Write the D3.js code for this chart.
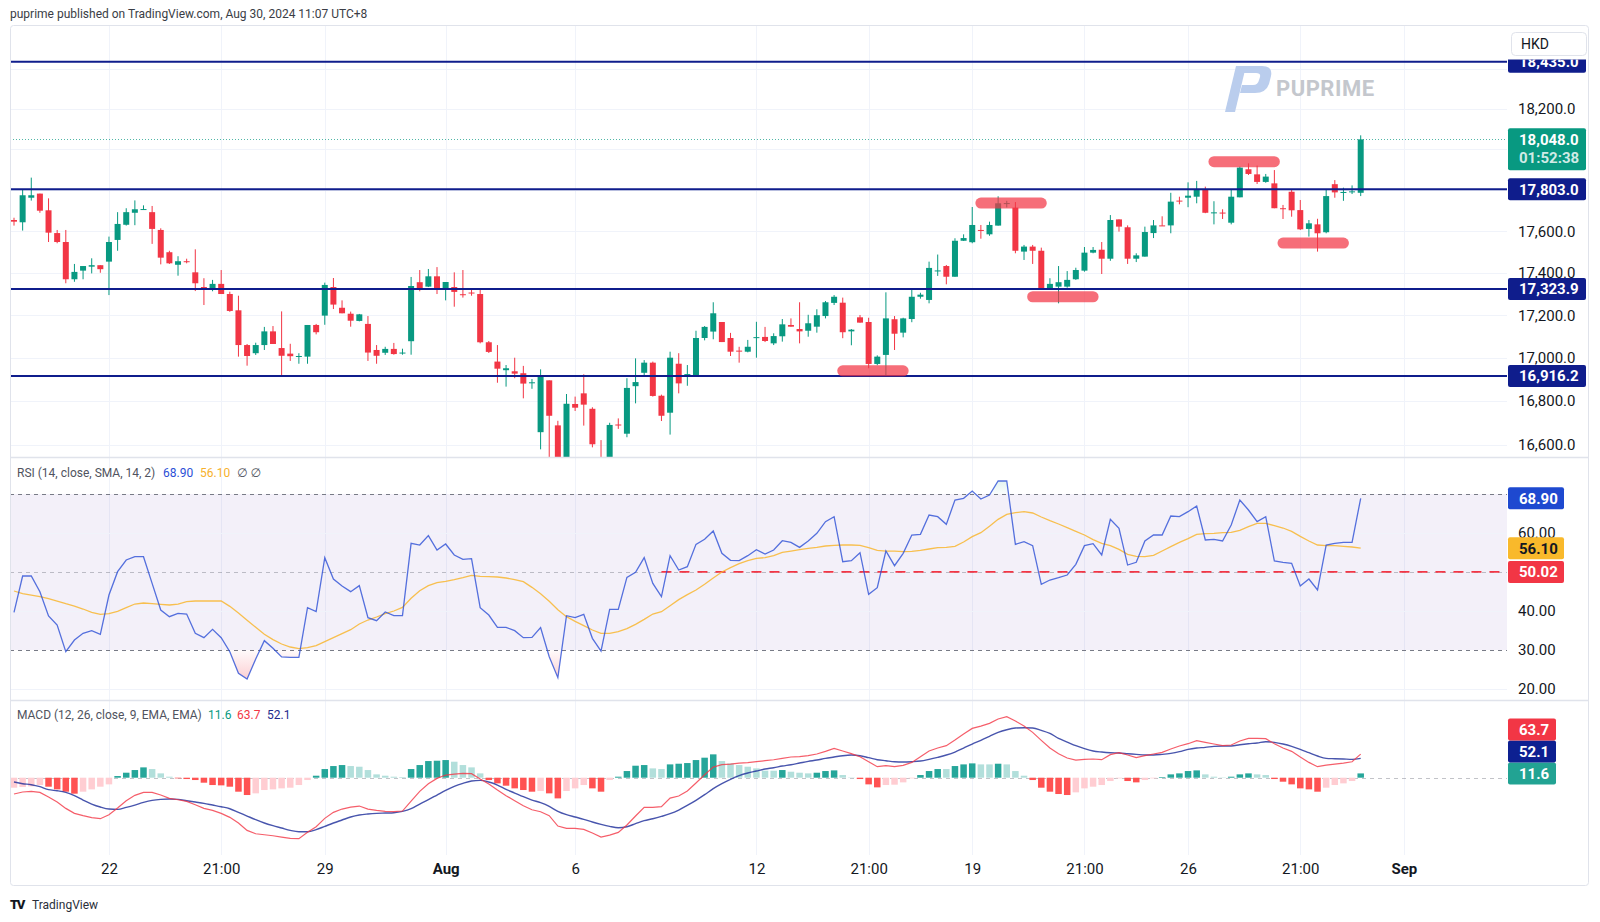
<!DOCTYPE html>
<html>
<head>
<meta charset="utf-8">
<title>HK50 4H</title>
<script src="https://cdn.jsdelivr.net/npm/d3@7/dist/d3.min.js"></script>
<style>
  html, body { margin: 0; padding: 0; background: #ffffff; }
  svg { display: block; }
</style>
</head>
<body>
<svg id="chart" width="1600" height="922"></svg>
<script>
// ---------------- DATA ----------------
const opens = [17654,17643,17762,17782,17701,17591,17548,17370,17411,17430,
 17437,17454,17558,17631,17689,17704,17692,17606,17499,17439,
 17456,17403,17333,17319,17348,17300,17223,17060,17022,17060,
 17124,17046,17020,17007,17006,17154,17198,17333,17235,17207,
 17173,17159,17037,17024,17042,17024,17078,17356,17335,17384,
 17323,17333,17299,17307,17300,17073,16983,16943,16938,16929,
 16885,16658,16896,16689,16525,16787,16836,16765,16520,16495,
 16693,16651,16869,16931,16978,16825,16747,16973,16922,16917,
 17093,17123,17168,17093,17034,17029,17095,17098,17068,17101,
 17154,17135,17127,17146,17196,17258,17259,17124,17190,17168,
 16972,17014,17181,17118,17182,17287,17272,17410,17433,17382,
 17554,17547,17606,17585,17627,17734,17714,17502,17526,17506,
 17323,17335,17335,17370,17411,17497,17511,17468,17657,17619,
 17468,17478,17591,17628,17628,17748,17762,17767,17800,17689,
 17690,17641,17764,17901,17876,17839,17832,17711,17791,17702,
 17611,17633,17595,17828,17789,17791,17786];
const highs = [17665,17803,17860,17782,17759,17606,17606,17443,17433,17470,
 17437,17574,17692,17711,17749,17725,17722,17614,17506,17480,
 17468,17513,17375,17367,17414,17311,17292,17065,17071,17145,
 17149,17218,17066,17022,17154,17159,17354,17376,17270,17217,
 17206,17196,17060,17052,17070,17043,17381,17414,17419,17428,
 17357,17403,17414,17327,17319,17079,17060,16967,17001,16963,
 16902,16947,16896,16710,16833,16821,16924,16772,16622,16701,
 16721,16906,16998,16990,16983,16830,17029,17022,16967,17127,
 17149,17261,17168,17117,17052,17084,17169,17145,17115,17182,
 17185,17261,17202,17228,17267,17295,17283,17135,17201,17188,
 17012,17308,17196,17188,17327,17306,17454,17488,17438,17566,
 17585,17717,17630,17646,17769,17747,17741,17534,17534,17521,
 17375,17433,17409,17425,17524,17524,17548,17678,17657,17628,
 17494,17622,17654,17672,17786,17767,17837,17844,17816,17745,
 17706,17804,17914,17930,17919,17878,17897,17727,17800,17751,
 17654,17660,17803,17848,17811,17822,18068];
const lows = [17627,17603,17748,17689,17548,17542,17351,17358,17370,17398,
 17401,17295,17506,17627,17629,17703,17539,17441,17443,17387,
 17446,17314,17248,17313,17300,17216,17006,16964,17014,17037,
 17065,16918,16986,16973,16973,17110,17155,17229,17209,17146,
 17171,16986,16973,17014,17015,17015,17015,17313,17333,17300,
 17270,17240,17283,17292,17068,17023,16885,16867,16906,16813,
 16857,16580,16510,16505,16505,16755,16688,16589,16470,16480,
 16673,16635,16790,16913,16821,16709,16647,16836,16871,16917,
 17082,17087,17074,17009,16978,17026,17001,17074,17060,17076,
 17146,17068,17099,17118,17185,17248,17092,17059,17165,16952,
 16966,16913,17037,17096,17167,17278,17256,17386,17346,17382,
 17553,17542,17564,17578,17627,17715,17494,17462,17443,17319,
 17319,17256,17330,17367,17406,17494,17395,17458,17598,17443,
 17452,17478,17567,17626,17590,17730,17716,17735,17687,17633,
 17659,17633,17764,17873,17829,17835,17711,17659,17670,17606,
 17574,17502,17590,17762,17747,17780,17770];
const closes = [17646,17774,17774,17699,17593,17548,17370,17405,17433,17437,
 17418,17548,17635,17692,17706,17707,17611,17473,17446,17456,
 17454,17351,17323,17348,17300,17220,17060,17009,17060,17124,
 17065,17010,17008,17009,17154,17120,17343,17250,17209,17174,
 17204,17025,17010,17042,17018,17025,17338,17324,17384,17323,
 17357,17310,17298,17305,17073,17028,16950,16952,16927,16881,
 16887,16917,16733,16520,16788,16770,16784,16603,16495,16691,
 16690,16861,16888,16978,16824,16733,17001,16882,16925,17093,
 17145,17209,17074,17029,17033,17052,17097,17079,17102,17157,
 17146,17124,17162,17200,17261,17287,17120,17132,17165,16972,
 17006,17185,17113,17185,17287,17297,17424,17412,17382,17554,
 17567,17630,17605,17630,17735,17736,17506,17526,17506,17323,
 17348,17356,17367,17414,17497,17510,17468,17654,17622,17468,
 17484,17596,17628,17627,17743,17747,17772,17804,17689,17691,
 17689,17767,17909,17878,17839,17865,17711,17710,17701,17609,
 17638,17590,17770,17788,17790,17793,18048];

const rsiValues = [39.66,48.97,48.97,44.96,38.72,36.41,29.57,32.56,34.27,34.96,
 34.02,44.1,50.09,53.08,53.93,53.93,47.09,40.26,38.55,39.4,
 39.23,34.27,33.16,35.3,33.16,29.57,24.02,22.56,27.69,32.39,
 30.43,28.21,28.12,28.12,40.85,39.83,53.68,48.21,46.41,44.96,
 46.5,38.29,37.52,39.74,38.8,38.8,57.35,56.92,59.32,55.64,
 57.18,54.36,53.25,53.42,40.85,38.97,35.81,35.81,34.96,33.16,
 33.25,35.73,28.29,22.91,38.8,38.29,39.15,32.99,29.74,40.43,
 40.43,48.63,49.91,53.68,47.09,43.68,54.19,50.51,51.37,57.09,
 58.38,60.51,54.79,52.99,52.91,54.19,55.73,54.62,55.64,58.03,
 57.61,56.32,57.95,59.91,62.91,64.19,52.65,52.91,54.96,44.27,
 45.98,55.38,51.62,54.79,59.49,59.66,64.62,64.19,62.22,68.46,
 68.89,70.77,68.72,69.74,73.33,73.33,57.09,57.78,56.75,46.84,
 47.95,48.55,49.23,51.97,56.75,57.26,54.36,63.5,61.2,51.79,
 52.48,57.95,59.49,59.49,64.36,64.19,65.47,66.92,58.21,58.38,
 57.95,62.05,68.46,65.9,62.91,64.19,52.82,52.48,52.22,46.41,
 48.21,45.38,56.92,57.35,57.61,57.61,68.9];
const rsiMaValues = [45.13,44.44,44.1,43.68,43.16,42.56,41.88,41.28,40.51,39.66,
 39.15,39.32,39.91,40.85,41.79,42.05,41.88,41.71,41.54,41.79,
 42.39,42.56,42.56,42.56,42.56,41.2,39.49,37.61,35.81,34.02,
 32.65,31.54,30.77,30.34,30.6,31.11,32.14,33.16,34.19,35.21,
 36.67,37.69,38.46,39.32,40,40.94,43.25,45.21,46.5,47.26,
 47.61,48.03,48.55,49.15,48.89,48.8,48.72,48.46,48.03,47.52,
 46.07,44.44,42.48,40.34,38.55,37.35,36.24,35.13,34.27,34.27,
 34.7,35.47,36.58,37.86,39.23,39.83,41.37,42.91,44.19,45.38,
 46.84,48.46,50,51.11,52.14,52.91,53.5,53.68,54.19,55.04,
 55.38,55.73,56.07,56.32,56.67,56.84,56.92,56.92,56.84,56.24,
 55.56,55.38,55.38,55.21,55.3,55.56,55.9,56.24,56.32,56.58,
 57.69,59.06,60.09,61.71,63.5,64.79,65.21,65.47,65.13,64.1,
 63.16,62.31,61.37,60.43,59.49,58.29,57.35,56.75,55.81,54.53,
 54.02,53.93,54.27,55.38,56.5,57.61,58.55,59.66,59.83,59.91,
 60.09,60.17,60.68,61.62,62.48,62.48,61.88,61.28,60.43,59.15,
 57.95,56.92,56.75,56.75,56.58,56.41,56.1];

const macdValues = [-44.1,-38.7,-36.9,-39.6,-52.3,-65.8,-82.9,-96.4,-102.7,-108.1,
 -110.8,-100,-82,-62.2,-47.7,-39.6,-39.6,-46.8,-55.9,-59.5,
 -64,-73,-82.9,-88.3,-96.4,-107.2,-122.5,-142.3,-151.4,-154.1,
 -156.8,-160.4,-164,-164.9,-147.7,-132.4,-109.9,-93.7,-84.7,-79.3,
 -76.6,-84.7,-88.3,-91,-91.9,-90.1,-63.1,-36.9,-16.2,-1.8,
 7.2,9.9,11.7,10.8,-3.6,-17.1,-33.3,-48.6,-62.2,-75.7,
 -86.5,-91.9,-102.7,-130.6,-136.9,-136.9,-139.6,-149.5,-160.4,-155,
 -147.7,-127.9,-103.6,-80.2,-80.2,-78.4,-55,-49.5,-36,-14.4,
 8.1,28.8,35.1,36.9,39.6,40.5,43.2,45.9,48.6,52.3,
 55.9,56.8,59.5,64,71.2,79.3,72.1,64.9,56.8,43.2,
 29.7,32.4,29.7,33.3,41.4,56.8,72.1,80.2,86.5,101.8,
 118,133.3,139.6,146.8,158.6,164.9,153.2,139.6,122.5,100.9,
 80.2,64.9,53.2,47.7,49.5,50.5,48.6,62.2,67.6,61.3,
 54.1,59.5,64,68.5,77.5,85.6,91.9,100,95.5,91,
 86.5,88.3,99.1,106.3,106.3,105.4,91.9,80.2,71.2,55.9,
 41.4,29.7,34.2,36.9,39.6,43.2,63.7];
const signalValues = [-11.7,-16.2,-18.9,-24.3,-32.4,-35.1,-39.6,-48.6,-60.4,-71.2,
 -79.3,-84.7,-85.6,-80.2,-73.9,-66.7,-61.3,-58.6,-57.7,-58.6,
 -62.2,-65.8,-69.4,-73.9,-78.4,-83.8,-93.7,-103.6,-113.5,-122.5,
 -129.7,-136,-142.3,-145.9,-145.9,-140.5,-131.5,-122.5,-114.4,-106.3,
 -100.9,-98.2,-96.4,-95.5,-94.6,-91,-83.8,-71.2,-59.5,-46.8,
 -34.2,-23.4,-15.3,-9,-7.2,-11.7,-19.8,-31.5,-41.4,-51.4,
 -60.4,-67.6,-77.5,-91,-100,-106.3,-112.6,-119.8,-126.1,-131.5,
 -135.1,-132.4,-124.3,-116.2,-110.8,-104.5,-97.3,-87.4,-74.8,-61.3,
 -45.9,-29.7,-16.2,-4.5,5.4,12.6,18,23.4,27,31.5,
 35.1,39.6,44.1,47.7,52.3,55.9,59.5,61.3,59.5,54.1,
 48.6,45.9,43.2,42.3,43.2,45,49.5,55,61.3,69.4,
 80.2,91,100.9,111.7,122.5,129.7,134.2,135.1,134.2,127.9,
 119.8,106.3,96.4,86.5,78.4,72.1,69.4,67.6,66.7,64.9,
 63.1,61.3,61.3,63.1,65.8,70.3,76.6,80.2,82,84.7,
 85.6,85.6,89.2,91.9,93.7,97.3,95.5,91,84.7,76.6,
 67.6,58.6,52.3,51.4,50.5,49.5,52.1];
const histValues = [-27,-25.2,-23.4,-19.8,-24.3,-31.5,-37.8,-43.2,-37.8,-31.5,
 -24.3,-18,4.5,13.5,20.7,27.9,23.4,11.7,2.7,-1.8,
 -3.6,-6.3,-13.5,-19.8,-20.7,-24.3,-37.8,-46.8,-42.3,-33.3,
 -31.5,-28.8,-27,-19.8,-6.3,5.4,23.4,31.5,34.2,31.5,
 29.7,20.7,9,5.4,2.7,1.8,23.4,34.2,45,45.9,
 47.7,43.2,34.2,27.9,11.7,-6.3,-15.3,-21.6,-28.8,-33.3,
 -37.8,-36,-42.3,-55.9,-36,-28.8,-19.8,-28.8,-37.8,-6.3,
 2.7,18,32.4,34.2,25.2,23.4,36,37.8,39.6,47.7,
 54.1,63.1,45,38.7,34.2,29.7,25.2,18.9,18.9,20.7,
 16.2,13.5,11.7,13.5,18,19.8,7.2,0.9,-3.6,-18,
 -26.1,-19.8,-18.9,-12.6,-1.8,7.2,18,23.4,23.4,31.5,
 36,38.7,36,36,37.8,36,18,5.4,-6.3,-27,
 -37.8,-44.1,-46.8,-39.6,-28.8,-24.3,-19.8,-9,-1.8,-9,
 -12.6,-6.3,-1.8,1.8,9,11.7,18,19.8,9,2.7,
 0.9,2.7,9,11.7,9,7.2,-3.6,-10.8,-18,-28.8,
 -31.5,-37.8,-27,-19.8,-15.3,-9,11.6];
const histBefore = -29.7;

const levelPrices = [18435.0, 17803.0, 17323.9, 16916.2];
const lastPrice = 18048.0;
const countdown = "01:52:38";
const priceTicks = [16600, 16800, 17000, 17200, 17400, 17600, 17800, 18000, 18200, 18400];
const rsiTicks = [20, 30, 40, 50, 60, 70];
const rsiBands = [70, 50, 30];
const rsiRayStart = 75;
const rsiRayValue = 50.02;
const markFrom = [96, 112, 118, 139, 147];
const markTo = [103, 119, 125, 146, 154];
const markPrice = [16940, 17736, 17287, 17938, 17543];
const timeTickIdx = [11, 24, 36, 50, 65, 86, 99, 111, 124, 136, 149, 161];
const timeTickLabels = ["22", "21:00", "29", "Aug", "6", "12", "21:00", "19", "21:00", "26", "21:00", "Sep"];

// ---------------- LAYOUT ----------------
const FONT = "Roboto, 'Noto Sans', 'DejaVu Sans', sans-serif";
const W = 1600, H = 922;
const L = 10, R = 1507, AXR = 1589;
const P0 = 26, P1 = 457, Q0 = 457, Q1 = 700, M0 = 700, M1 = 855, FB = 886;
const n = closes.length;
const UP = "#089981", DN = "#F23645", NAVY = "#0f1d8c", GRID = "#F0F3FA", TXT = "#131722";

const svg = d3.select("#chart").style("font-family", FONT);
const x = d3.scaleLinear().domain([0, n - 1]).range([14, 1360.7]);
const yP = d3.scaleLog().domain([16545.2, 18616.8]).range([P1, P0]);
const yR = d3.scaleLinear().domain([17.18, 79.49]).range([Q1, Q0]);
const yM = d3.scaleLinear().domain([-208.9, 210]).range([M1, M0]);

svg.append("rect").attr("width", W).attr("height", H).attr("fill", "#fff");
const defs = svg.append("defs");
function addClip(id, x0, y0, w, h) {
  defs.append("clipPath").attr("id", id).append("rect")
    .attr("x", x0).attr("y", y0).attr("width", w).attr("height", h);
}
addClip("clipP", L, P0, R - L, P1 - P0);
addClip("clipR", L, Q0, R - L, Q1 - Q0);
addClip("clipM", L, M0, R - L, M1 - M0);
addClip("clipOB", L, Q0, R - L, yR(70) - Q0);
addClip("clipOS", L, yR(30), R - L, Q1 - yR(30));
addClip("clipAxisP", R, 59.5, AXR - R, P1 - 59.5);

const obGrad = defs.append("linearGradient").attr("id", "gOB").attr("gradientUnits", "userSpaceOnUse")
  .attr("x1", 0).attr("x2", 0).attr("y1", yR(70)).attr("y2", yR(78));
obGrad.append("stop").attr("offset", 0).attr("stop-color", "#089981").attr("stop-opacity", 0.02);
obGrad.append("stop").attr("offset", 1).attr("stop-color", "#089981").attr("stop-opacity", 0.25);
const osGrad = defs.append("linearGradient").attr("id", "gOS").attr("gradientUnits", "userSpaceOnUse")
  .attr("x1", 0).attr("x2", 0).attr("y1", yR(30)).attr("y2", yR(22));
osGrad.append("stop").attr("offset", 0).attr("stop-color", "#F23645").attr("stop-opacity", 0.02);
osGrad.append("stop").attr("offset", 1).attr("stop-color", "#F23645").attr("stop-opacity", 0.25);

const px = v => Math.round(v) + 0.5;

// ---------------- GRID ----------------
svg.append("g").selectAll("line").data(timeTickIdx).join("line")
  .attr("x1", d => px(x(d))).attr("x2", d => px(x(d)))
  .attr("y1", P0).attr("y2", M1).attr("stroke", GRID);
svg.append("g").selectAll("line").data(priceTicks).join("line")
  .attr("x1", L).attr("x2", R).attr("y1", d => px(yP(d))).attr("y2", d => px(yP(d)))
  .attr("stroke", GRID);

// ---------------- WATERMARK ----------------
const wm = svg.append("g");
wm.append("path").attr("d", "M1225,112 L1235,112 L1246,66 L1236,66 Z").attr("fill", "#BACDED");
wm.append("path").attr("d", "M1241,66 L1262,66 Q1273,66 1271,76 L1269,84 Q1266,93 1255,93 L1240,93 L1242,85 L1253,85 Q1258,85 1259,80 L1260,77 Q1261,73 1256,73 L1239.5,73 Z")
  .attr("fill", "#BACDED");
wm.append("text").attr("x", 1276).attr("y", 96).text("PUPRIME")
  .attr("font-size", 22).attr("font-weight", 700).attr("fill", "#C4C7CD").attr("letter-spacing", 0.5);

// ---------------- CANDLES ----------------
const idx = d3.range(n);
const candleColor = i => closes[i] >= opens[i] ? UP : DN;
const cg = svg.append("g").attr("clip-path", "url(#clipP)");
cg.selectAll("rect.wick").data(idx).join("rect").attr("class", "wick")
  .attr("x", i => x(i) - 0.5).attr("width", 1)
  .attr("y", i => yP(highs[i]))
  .attr("height", i => Math.max(1, yP(lows[i]) - yP(highs[i])))
  .attr("fill", candleColor);
cg.selectAll("rect.body").data(idx).join("rect").attr("class", "body")
  .attr("x", i => x(i) - 3).attr("width", 6)
  .attr("y", i => yP(Math.max(opens[i], closes[i])))
  .attr("height", i => Math.max(1, yP(Math.min(opens[i], closes[i])) - yP(Math.max(opens[i], closes[i]))))
  .attr("fill", candleColor);

// support / resistance levels
svg.append("g").selectAll("line").data(levelPrices).join("line")
  .attr("x1", L).attr("x2", R).attr("y1", d => yP(d)).attr("y2", d => yP(d))
  .attr("stroke", NAVY).attr("stroke-width", 2);
// last price dotted line
svg.append("line").attr("x1", L).attr("x2", R).attr("y1", px(yP(lastPrice))).attr("y2", px(yP(lastPrice)))
  .attr("stroke", UP).attr("stroke-opacity", 0.7).attr("stroke-dasharray", "1,2");

// highlight marks
svg.append("g").attr("clip-path", "url(#clipP)").selectAll("line").data(markFrom).join("line")
  .attr("x1", (d, i) => x(markFrom[i])).attr("x2", (d, i) => x(markTo[i]))
  .attr("y1", (d, i) => yP(markPrice[i])).attr("y2", (d, i) => yP(markPrice[i]))
  .attr("stroke", "#F23645").attr("stroke-opacity", 0.72)
  .attr("stroke-width", 11).attr("stroke-linecap", "round");

// ---------------- PRICE AXIS ----------------
const fmtP = d3.format(",.1f");
const pBoxes = levelPrices.map(p => ({ y: yP(p), top: yP(p) - 11, bottom: yP(p) + 11, lines: [fmtP(p)], fill: NAVY, color: "#fff" }));
pBoxes.push({ y: yP(lastPrice), top: yP(lastPrice) - 11, bottom: yP(lastPrice) + 31, lines: [fmtP(lastPrice), countdown], fill: UP, color: "#fff" });

function styleAxis(g, size) {
  g.select(".domain").remove();
  g.attr("font-family", FONT).attr("font-size", size);
  g.selectAll("text").attr("fill", TXT);
}
const pAxis = svg.append("g").attr("transform", "translate(1518,0)")
  .call(d3.axisRight(yP).tickValues(priceTicks).tickFormat(fmtP).tickSize(0).tickPadding(0));
styleAxis(pAxis, 15);
pAxis.selectAll(".tick").filter(d => pBoxes.some(b => yP(d) > b.top - 4 && yP(d) < b.bottom + 4)).remove();

function drawBox(g, b, x0, w, fs) {
  g.append("rect").attr("x", x0).attr("y", b.top).attr("width", w).attr("height", b.bottom - b.top)
    .attr("rx", 2).attr("fill", b.fill);
  b.lines.forEach((t, k) => g.append("text").attr("x", x0 + 11).attr("y", b.y + k * 18.5).attr("dy", "0.36em")
    .attr("font-size", fs).attr("font-weight", 700).attr("fill", b.color)
    .attr("fill-opacity", k ? 0.82 : 1).text(t));
}
const pbg = svg.append("g").attr("clip-path", "url(#clipAxisP)");
pBoxes.forEach(b => drawBox(pbg, b, 1508, 78, 15));

// currency button
svg.append("rect").attr("x", 1511.5).attr("y", 32.5).attr("width", 75).attr("height", 23).attr("rx", 4)
  .attr("fill", "#fff").attr("stroke", "#E0E3EB");
svg.append("text").attr("x", 1521).attr("y", 44).attr("dy", "0.35em").attr("font-size", 14)
  .attr("fill", TXT).text("HKD");

// ---------------- RSI PANE ----------------
const rg = svg.append("g");
rg.append("rect").attr("x", L).attr("width", R - L).attr("y", yR(70)).attr("height", yR(30) - yR(70))
  .attr("fill", "#7E57C2").attr("fill-opacity", 0.09);
rg.selectAll("line.grid").data(rsiTicks.filter(t => !rsiBands.includes(t))).join("line").attr("class", "grid")
  .attr("x1", L).attr("x2", R).attr("y1", d => px(yR(d))).attr("y2", d => px(yR(d))).attr("stroke", GRID);
rg.selectAll("line.band").data(rsiBands).join("line").attr("class", "band")
  .attr("x1", L).attr("x2", R).attr("y1", d => px(yR(d))).attr("y2", d => px(yR(d)))
  .attr("stroke", "#787B86").attr("stroke-opacity", d => d === 50 ? 0.45 : 1)
  .attr("stroke-dasharray", "4,4");
rg.append("line").attr("x1", x(rsiRayStart)).attr("x2", R).attr("y1", yR(rsiRayValue)).attr("y2", yR(rsiRayValue))
  .attr("stroke", "#F23645").attr("stroke-width", 1.8).attr("stroke-dasharray", "10,8");

const rsiArea = base => d3.area().x(i => x(i)).y0(yR(base)).y1(i => yR(rsiValues[i]));
rg.append("path").datum(idx).attr("clip-path", "url(#clipOB)").attr("d", rsiArea(70)).attr("fill", "url(#gOB)");
rg.append("path").datum(idx).attr("clip-path", "url(#clipOS)").attr("d", rsiArea(30)).attr("fill", "url(#gOS)");

const rl = rg.append("g").attr("clip-path", "url(#clipR)");
rl.append("path").datum(idx).attr("d", d3.line().x(i => x(i)).y(i => yR(rsiMaValues[i])))
  .attr("fill", "none").attr("stroke", "#F8B630").attr("stroke-opacity", 0.85).attr("stroke-width", 1.3);
rl.append("path").datum(idx).attr("d", d3.line().x(i => x(i)).y(i => yR(rsiValues[i])))
  .attr("fill", "none").attr("stroke", "#2c4fd6").attr("stroke-opacity", 0.8).attr("stroke-width", 1.3);

// RSI legend
const rLeg = rg.append("text").attr("y", 477).attr("font-size", 12);
rLeg.append("tspan").attr("x", 17).attr("fill", "#50535E").text("RSI (14, close, SMA, 14, 2)");
rLeg.append("tspan").attr("x", 163).attr("fill", "#2c4fd6").text(d3.format(".2f")(rsiValues[n - 1]));
rLeg.append("tspan").attr("x", 200).attr("fill", "#F7B12B").text(d3.format(".2f")(rsiMaValues[n - 1]));
rLeg.append("tspan").attr("x", 237).attr("fill", "#50535E").text("∅  ∅");

// RSI axis + boxes
const fmtR = d3.format(".2f");
const rBoxes = [
  { v: rsiValues[n - 1], fill: "#1E49D0", color: "#fff" },
  { v: rsiMaValues[n - 1], fill: "#F9B92B", color: TXT },
  { v: rsiRayValue, fill: "#F23645", color: "#fff" }
].map(b => ({ ...b, y: yR(b.v), top: yR(b.v) - 11, bottom: yR(b.v) + 11, lines: [fmtR(b.v)] }));
const rAxis = svg.append("g").attr("transform", "translate(1518,0)")
  .call(d3.axisRight(yR).tickValues(rsiTicks).tickFormat(fmtR).tickSize(0).tickPadding(0));
styleAxis(rAxis, 15);
rAxis.selectAll(".tick").filter(d => rBoxes.some(b => yR(d) > b.top - 4 && yR(d) < b.bottom + 4)).remove();
const rbg = svg.append("g");
rBoxes.forEach(b => drawBox(rbg, b, 1508, 56, 15));

// ---------------- MACD PANE ----------------
const mg = svg.append("g");
mg.append("line").attr("x1", L).attr("x2", R).attr("y1", px(yM(0))).attr("y2", px(yM(0)))
  .attr("stroke", "#787B86").attr("stroke-opacity", 0.45).attr("stroke-dasharray", "4,4");
const histColor = i => {
  const v = histValues[i], p = i > 0 ? histValues[i - 1] : histBefore;
  if (v >= 0) return p < v ? "#26A69A" : "#B2DFDB";
  return p < v ? "#FFCDD2" : "#FF5252";
};
const mc = mg.append("g").attr("clip-path", "url(#clipM)");
mc.selectAll("rect").data(idx).join("rect")
  .attr("x", i => x(i) - 3.25).attr("width", 6.5)
  .attr("y", i => Math.min(yM(0), yM(histValues[i])))
  .attr("height", i => Math.abs(yM(histValues[i]) - yM(0)))
  .attr("fill", histColor);
mc.append("path").datum(idx).attr("d", d3.line().curve(d3.curveMonotoneX).x(i => x(i)).y(i => yM(signalValues[i])))
  .attr("fill", "none").attr("stroke", "#1a2a98").attr("stroke-opacity", 0.8).attr("stroke-width", 1.4);
mc.append("path").datum(idx).attr("d", d3.line().x(i => x(i)).y(i => yM(macdValues[i])))
  .attr("fill", "none").attr("stroke", "#F23645").attr("stroke-opacity", 0.8).attr("stroke-width", 1.2);

const fmtM = d3.format(".1f");
const mLeg = mg.append("text").attr("y", 719).attr("font-size", 12);
mLeg.append("tspan").attr("x", 17).attr("fill", "#50535E").text("MACD (12, 26, close, 9, EMA, EMA)");
mLeg.append("tspan").attr("x", 208).attr("fill", "#089981").text(fmtM(histValues[n - 1]));
mLeg.append("tspan").attr("x", 237).attr("fill", "#F23645").text(fmtM(macdValues[n - 1]));
mLeg.append("tspan").attr("x", 267).attr("fill", "#1E2A8C").text(fmtM(signalValues[n - 1]));

const mBoxes = [
  { v: macdValues[n - 1], fill: "#F23645" },
  { v: signalValues[n - 1], fill: "#0D2091" },
  { v: histValues[n - 1], fill: "#22A393" }
].map(b => ({ ...b, y: yM(b.v), color: "#fff", lines: [fmtM(b.v)] }))
  .sort((a, b) => b.y - a.y);
let lastTop = Infinity;
mBoxes.forEach(b => {
  let top = b.y - 11;
  if (top + 22 > lastTop) top = lastTop - 22;
  b.top = top; b.bottom = top + 22; b.y = top + 11; lastTop = top;
});
const mbg = svg.append("g");
mBoxes.forEach(b => drawBox(mbg, b, 1508, 48, 15));

// ---------------- FRAME / SEPARATORS ----------------
svg.append("g").selectAll("line").data([Q0, M0]).join("line")
  .attr("x1", L).attr("x2", AXR).attr("y1", d => d + 0.5).attr("y2", d => d + 0.5)
  .attr("stroke", "#E0E3EB").attr("stroke-width", 1.5);
svg.append("rect").attr("x", L + 0.5).attr("y", P0 - 0.5).attr("width", AXR - L - 1).attr("height", FB - P0)
  .attr("rx", 3).attr("fill", "none").attr("stroke", "#E0E3EB");

// ---------------- TIME AXIS ----------------
const tAxis = svg.append("g").attr("transform", `translate(0,${856})`)
  .call(d3.axisBottom(x).tickValues(timeTickIdx).tickFormat((d, i) => timeTickLabels[i]).tickSize(0).tickPadding(7));
styleAxis(tAxis, 15);
tAxis.selectAll("text").attr("font-weight", (d, i) => /^[A-Za-z]/.test(timeTickLabels[i]) ? 700 : 400);

// ---------------- HEADER / FOOTER ----------------
svg.append("text").attr("x", 10).attr("y", 18).attr("font-size", 12).attr("fill", "#3a3d45")
  .text("puprime published on TradingView.com, Aug 30, 2024 11:07 UTC+8");
svg.append("text").attr("x", 10).attr("y", 909).attr("font-size", 13).attr("font-weight", 900)
  .attr("letter-spacing", -1.5).attr("fill", TXT).text("TV");
svg.append("text").attr("x", 32).attr("y", 908.5).attr("font-size", 12).attr("fill", "#2a2e39").text("TradingView");
</script>
</body>
</html>
